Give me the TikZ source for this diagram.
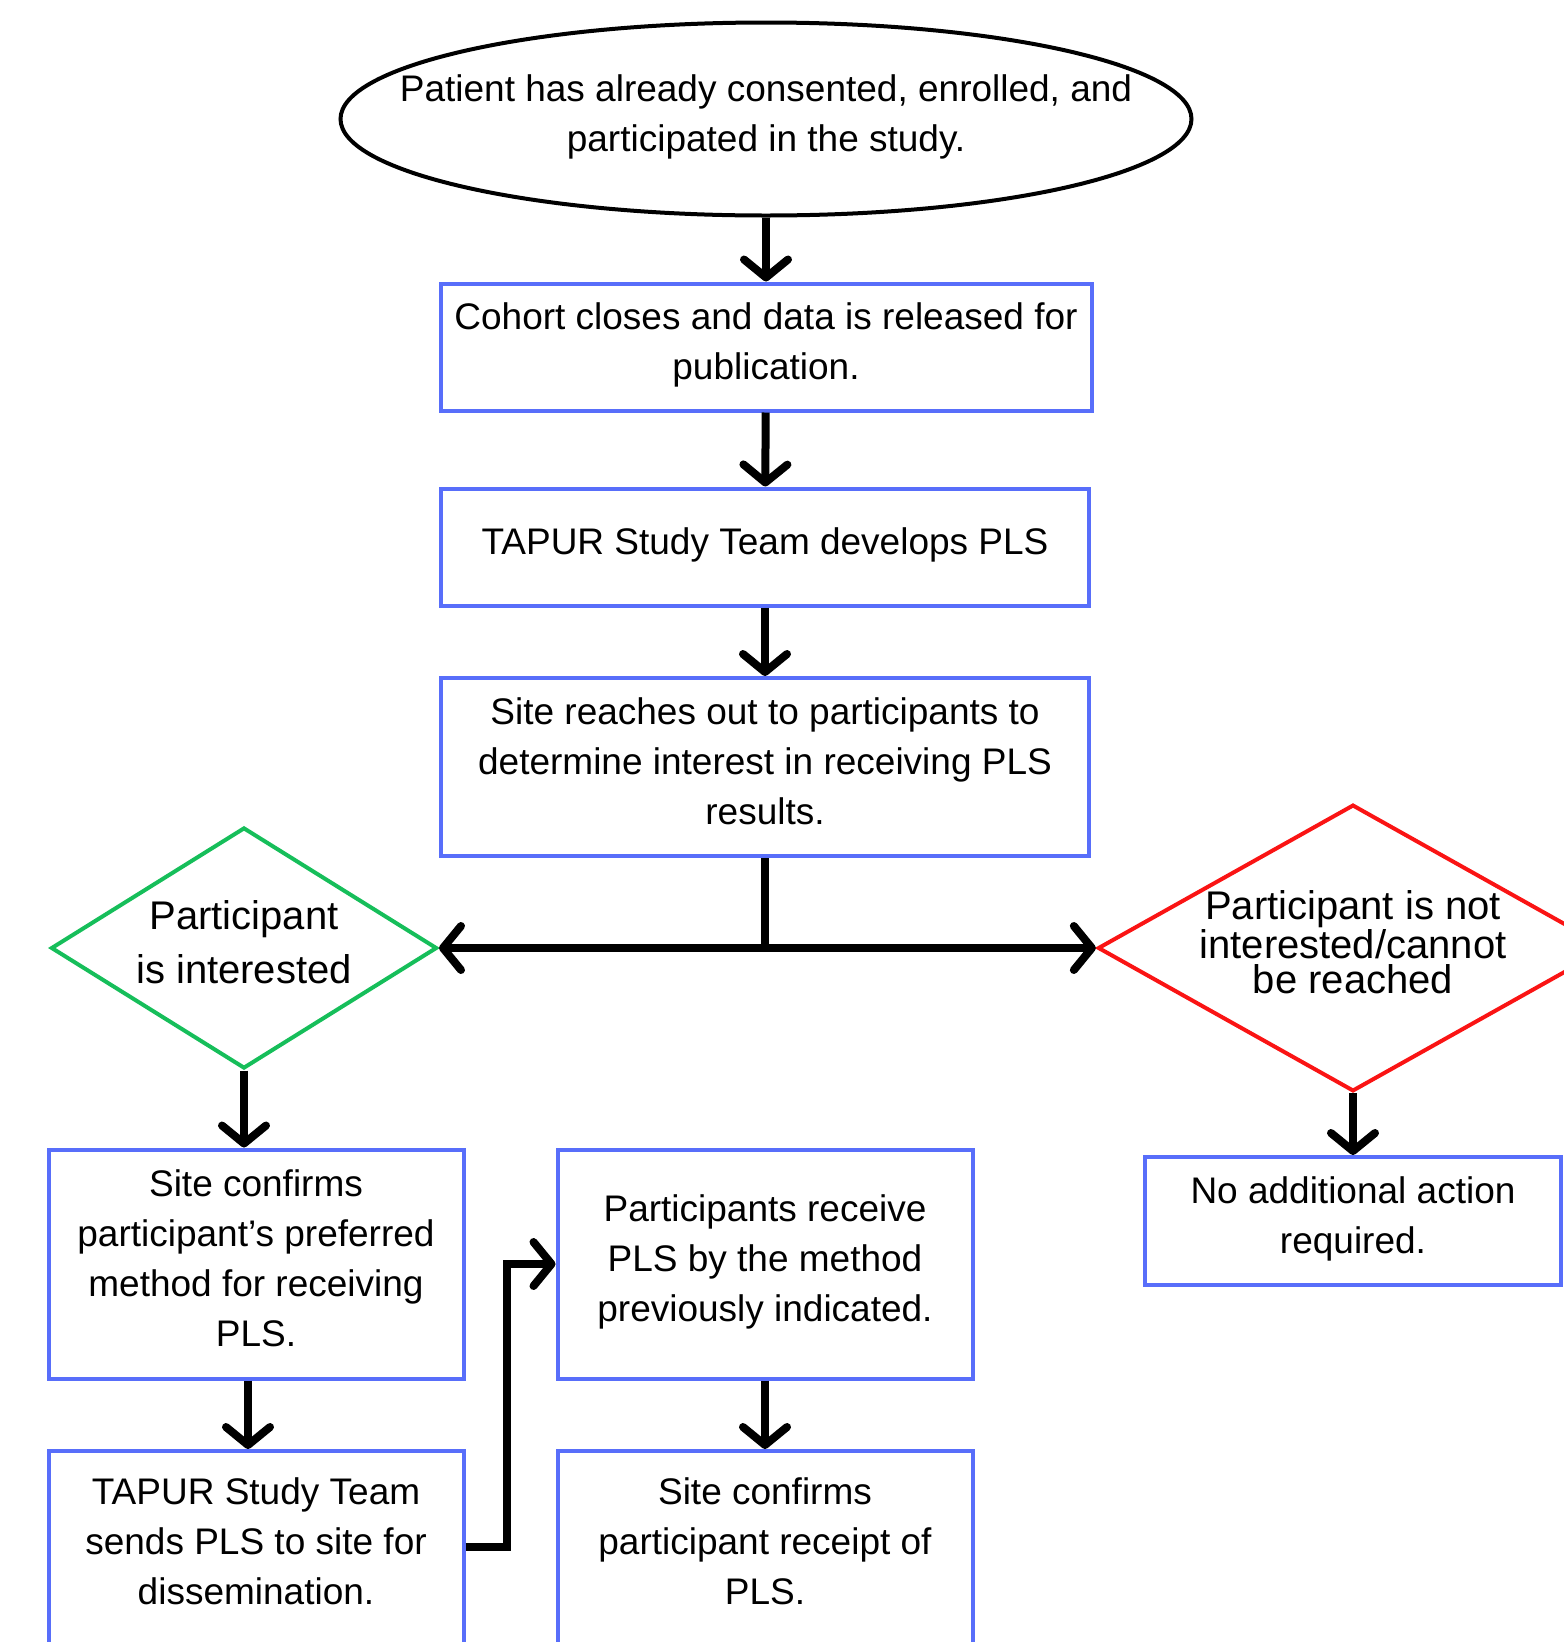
\documentclass[tikz,border=0pt]{standalone}
\usepackage{fontspec}
\setmainfont{Liberation Sans}
\usetikzlibrary{shapes.geometric,arrows.meta}
\definecolor{boxblue}{RGB}{88,110,250}
\definecolor{yesgreen}{RGB}{22,190,90}
\definecolor{nored}{RGB}{250,20,20}
\begin{document}
\begin{tikzpicture}[x=1pt, y=-1pt,
  txt/.style={align=center, font=\fontsize{37}{50}\selectfont, execute at end node={\rule[-12pt]{0pt}{12pt}}},
  procbox/.style={txt, draw=boxblue, line width=4pt, rectangle, inner sep=0pt},
  cutbox/.style={procbox, execute at end node={\rule[-40pt]{0pt}{40pt}}},
  yesdia/.style={txt, draw=yesgreen, line width=4pt, diamond, aspect=1.6, inner sep=0pt, font=\fontsize{40}{54}\selectfont},
  nodia/.style={txt, draw=nored, line width=4pt, diamond, aspect=1.78, inner sep=0pt, font=\fontsize{40}{35}\selectfont},
  flow/.style={line width=8pt, -{Straight Barb[length=18pt, width=44pt, round]}}]
  \useasboundingbox (0,0) rectangle (1564,1642);
  % top of the chart
  \node[draw, ellipse, line width=4pt, minimum width=851pt, minimum height=193pt] (start) at (766,119) {};
  \node[txt] (starttext) at (start) {Patient has already consented, enrolled, and\\participated in the study.};
  \node[procbox, minimum width=651pt, minimum height=127pt] (cohort) at (766,347) {Cohort closes and data is released for\\publication.};
  \node[procbox, minimum width=648pt, minimum height=117pt] (develops) at (765,547) {TAPUR Study Team develops PLS};
  \node[procbox, minimum width=648pt, minimum height=178pt] (reach) at (765,767) {Site reaches out to participants to\\determine interest in receiving PLS\\results.};
  % the two answers
  \node[yesdia, minimum width=386pt, minimum height=241pt] (yes) at (244,948) {Participant\\is interested};
  \node[nodia, minimum width=508pt, minimum height=285pt] (no) at (1353,948) {Participant is not\\interested/cannot\\be reached};
  \node[procbox, minimum width=415pt, minimum height=229pt] (confirm) at (256,1264) {Site confirms\\participant’s preferred\\method for receiving\\PLS.};
  \node[cutbox, minimum width=415pt, minimum height=220pt] (sends) at (256,1561) {TAPUR Study Team\\sends PLS to site for\\dissemination.};
  \node[procbox, minimum width=415pt, minimum height=229pt] (receive) at (765,1264) {Participants receive\\PLS by the method\\previously indicated.};
  \node[cutbox, minimum width=415pt, minimum height=220pt] (receipt) at (765,1561) {Site confirms\\participant receipt of\\PLS.};
  \node[procbox, minimum width=416pt, minimum height=128pt] (noaction) at (1353,1221) {No additional action\\required.};
  % connectors
  \foreach \a/\b in {start/cohort, cohort/develops, develops/reach, receive/receipt, no/noaction}
    \draw[flow] (\a) -- (\b);
  \coordinate (split) at (reach.south |- yes.east);
  \draw[line width=8pt] (reach.south) -- (split);
  \draw[flow] (split) -- (yes.east);
  \draw[flow] (split) -- (no.west);
  \draw[flow] (yes.south) -- (yes.south |- confirm.north);
  \draw[flow] ([xshift=-8pt]confirm.south) -- ([xshift=-8pt]sends.north);
  \draw[flow] ([yshift=14pt]sends.east) -- ++(41,0) |- (receive.west);
\end{tikzpicture}
\end{document}
